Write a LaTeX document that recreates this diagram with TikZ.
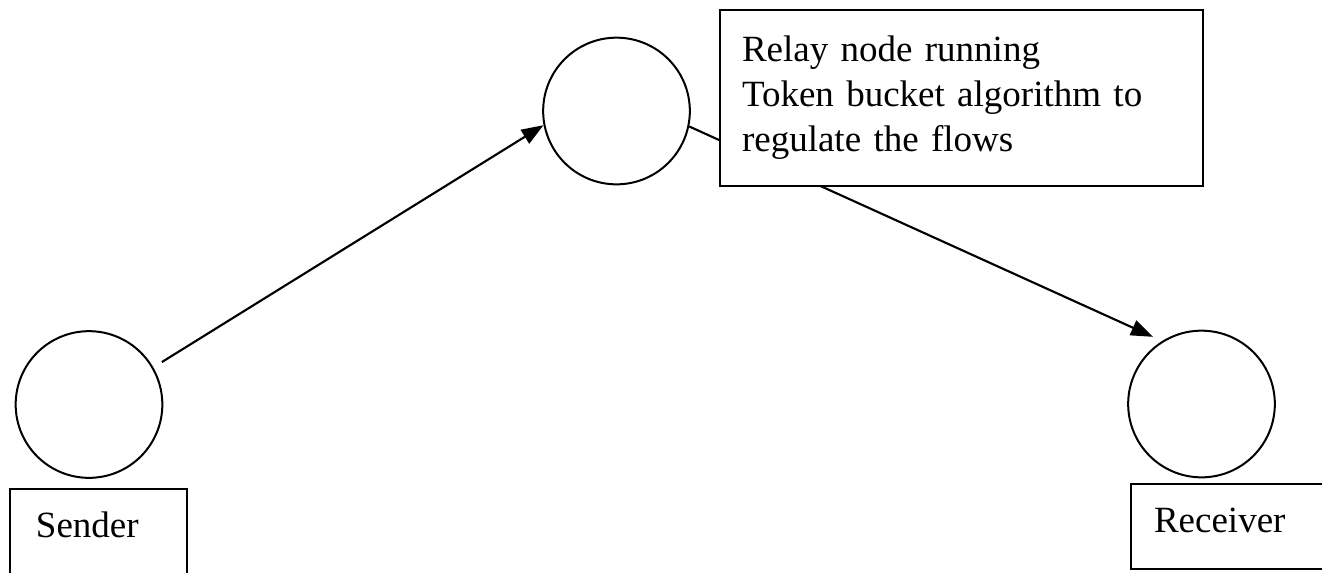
\documentclass[tikz,border=0pt]{standalone}
\usepackage{fontspec}
\setmainfont{Liberation Serif}
\usetikzlibrary{arrows.meta}
\begin{document}
\begin{tikzpicture}[x=0.75pt,y=-0.75pt,
  every node/.style={font=\fontsize{27.75pt}{33.75pt}\selectfont},
  host/.style={circle,draw,line width=1.5pt,minimum size=110pt,inner sep=0pt},
  labelbox/.style={rectangle,draw,line width=1.5pt,fill=white,align=left,anchor=north west},
  flow/.style={line width=1.6pt,-{Triangle[length=16.5pt,width=12pt]}}]
\useasboundingbox (0,0) rectangle (1322,572);
\clip (0,0) rectangle (1322,572);
\node[host] (sender) at (89,404.5) {};
\node[host] (relay) at (616.5,111) {};
\node[host] (receiver) at (1201.5,404) {};
\draw[flow,shorten <=7.5pt] (sender.30) -- (relay.191);
\draw[flow,shorten >=7.5pt] (relay.-12) -- (receiver.122);
\node[labelbox,minimum width=362.25pt,minimum height=132pt,inner xsep=16.5pt,text width=329.25pt]
  (relaylabel) at (719,9) {Relay node running\\Token bucket algorithm to\\regulate the flows};
\node[labelbox,inner xsep=19.5pt,inner ysep=17.5pt,text height=18.75pt,text depth=15pt,text width=93.75pt]
  (senderlabel) at (9,488) {Sender};
\node[labelbox,inner xsep=17.25pt,inner ysep=17.5pt,text height=18.75pt,text depth=10pt,text width=150pt]
  (receiverlabel) at (1130,483) {Receiver};
\end{tikzpicture}
\end{document}
